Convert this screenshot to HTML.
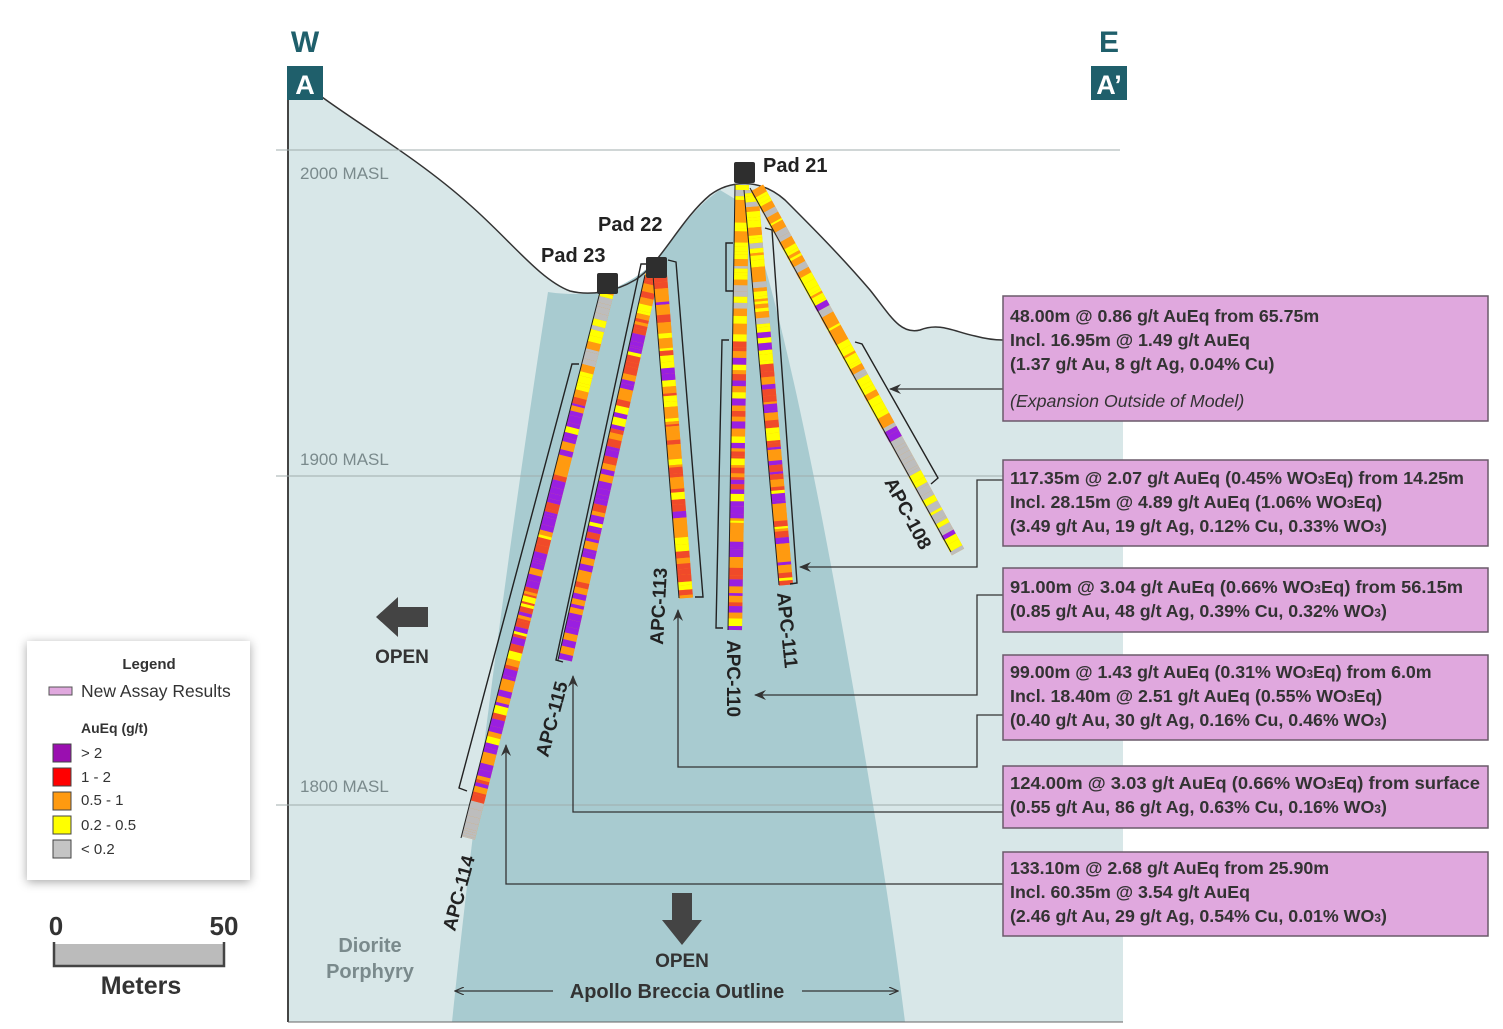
<!DOCTYPE html>
<html><head><meta charset="utf-8"><style>
html,body{margin:0;padding:0;background:#fff;}
svg{display:block;font-family:"Liberation Sans",sans-serif;}
</style></head><body>
<svg id="s" width="1503" height="1029" viewBox="0 0 1503 1029" xmlns="http://www.w3.org/2000/svg">
<defs>
<marker id="ah" markerWidth="12" markerHeight="10" refX="11" refY="5" orient="auto" markerUnits="userSpaceOnUse">
<path d="M0,0 L12,5 L0,10 L4,5 Z" fill="#333"/></marker>
<marker id="sa" markerWidth="10" markerHeight="8" refX="9" refY="4" orient="auto" markerUnits="userSpaceOnUse">
<path d="M0,0 L9,4 L0,8" fill="none" stroke="#333" stroke-width="1.2"/></marker>
<filter id="sh" x="-20%" y="-20%" width="140%" height="140%"><feDropShadow dx="0" dy="2" stdDeviation="5" flood-color="#000" flood-opacity="0.35"/></filter>
</defs>
<path d="M288,97 L322,97 C360,125 420,160 470,205 C510,240 540,280 570,291 C590,296 615,292 635,280 C660,265 680,220 710,195 C730,180 760,178 785,200 C810,225 840,255 870,290 C890,315 900,335 920,330 C940,322 955,332 975,336 C990,340 1000,340 1003,340 L1123,340 L1123,1022 L288,1022 Z" fill="#d8e7e8"/>
<path d="M548,292 C560,294 590,296 610,290 C635,280 655,265 668,245 C690,215 705,200 720,190 L745,205 C770,270 800,400 830,560 C860,720 890,900 905,1022 L452,1022 C470,850 500,600 548,292 Z" fill="#a8cbd0"/>
<path d="M322,97 C360,125 420,160 470,205 C510,240 540,280 570,291 C590,296 615,292 635,280 C660,265 680,220 710,195 C730,180 760,178 785,200 C810,225 840,255 870,290 C890,315 900,335 920,330 C940,322 955,332 975,336 C990,340 1000,340 1003,340" fill="none" stroke="#333" stroke-width="1.5"/>
<line x1="288" y1="100" x2="288" y2="1022" stroke="#444" stroke-width="2"/>
<line x1="288" y1="1022" x2="1123" y2="1022" stroke="#666" stroke-width="1"/>
<g stroke="#a0acad" stroke-width="1">
<line x1="276" y1="150" x2="1120" y2="150"/>
<line x1="276" y1="476" x2="1120" y2="476"/>
<line x1="276" y1="805" x2="1120" y2="805"/>
</g>
<g fill="#7a8a8c" font-size="17">
<text x="300" y="179">2000 MASL</text>
<text x="300" y="465">1900 MASL</text>
<text x="300" y="792">1800 MASL</text>
</g>
<text x="305" y="52" font-size="30" font-weight="bold" fill="#1f5f6b" text-anchor="middle">W</text>
<rect x="287" y="66" width="36" height="34" fill="#1f5f6b"/>
<text x="305" y="94" font-size="27" font-weight="bold" fill="#fff" text-anchor="middle">A</text>
<text x="1109" y="52" font-size="30" font-weight="bold" fill="#1f5f6b" text-anchor="middle">E</text>
<rect x="1091" y="66" width="36" height="34" fill="#1f5f6b"/>
<text x="1109" y="94" font-size="27" font-weight="bold" fill="#fff" text-anchor="middle">A’</text>

<g id="holes"></g>

<g fill="none" stroke="#222" stroke-width="1.4">
<path d="M579,364 L572,364 L459,788 L467,791"/>
<path d="M648,264 L641,264 L556,660 L563,662"/>
<path d="M668,260 L676,262 L703,597 L695,597"/>
<path d="M733,243 L726,243 L726,291 L733,291"/>
<path d="M729,340 L722,340 L716,628 L723,628"/>
<path d="M765,228 L772,230 L797,583 L790,584"/>
<path d="M855,342 L862,344 L938,478 L931,484"/>
</g>
<g fill="#2e2e2e">
<rect x="597" y="273" width="21" height="21" rx="2"/>
<rect x="646" y="257" width="21" height="21" rx="2"/>
<rect x="734" y="162" width="21" height="21" rx="2"/>
</g>
<g font-size="20" font-weight="bold" fill="#222">
<text x="541" y="262">Pad 23</text>
<text x="598" y="231">Pad 22</text>
<text x="763" y="172">Pad 21</text>
</g>
<g font-size="19" font-weight="bold" fill="#222">
<text transform="translate(455,932) rotate(-75)">APC-114</text>
<text transform="translate(548,758) rotate(-75)">APC-115</text>
<text transform="translate(663,645) rotate(-87)">APC-113</text>
<text transform="translate(727,640) rotate(90)">APC-110</text>
<text transform="translate(777,593) rotate(84)">APC-111</text>
<text transform="translate(884,482) rotate(62)">APC-108</text>
</g>
<g fill="none" stroke="#333" stroke-width="1.3" marker-end="url(#ah)">
<path d="M1003,389 L890,389"/>
<path d="M1003,480 L977,480 L977,567 L800,567"/>
<path d="M1003,595 L977,595 L977,695 L755,695"/>
<path d="M1003,715 L977,715 L977,767 L678,767 L678,610"/>
<path d="M1003,812 L573,812 L573,676"/>
<path d="M1003,884 L506,884 L506,745"/>
</g>
<g fill="#e0a8de" stroke="#6a5a6a" stroke-width="1.5">
<rect x="1003" y="296" width="485" height="125"/>
<rect x="1003" y="460" width="485" height="86"/>
<rect x="1003" y="568" width="485" height="64"/>
<rect x="1003" y="655" width="485" height="85"/>
<rect x="1003" y="766" width="485" height="62"/>
<rect x="1003" y="852" width="485" height="84"/>
</g>
<g font-size="17.8" font-weight="bold" fill="#333">
<text x="1010" y="322">48.00m @ 0.86 g/t AuEq from 65.75m</text>
<text x="1010" y="346">Incl. 16.95m @ 1.49 g/t AuEq</text>
<text x="1010" y="370">(1.37 g/t Au, 8 g/t Ag, 0.04% Cu)</text>
<text x="1010" y="407" font-style="italic" font-weight="normal">(Expansion Outside of Model)</text>
<text x="1010" y="484" textLength="454" lengthAdjust="spacingAndGlyphs">117.35m @ 2.07 g/t AuEq (0.45% WO<tspan font-size="12">3</tspan>Eq) from 14.25m</text>
<text x="1010" y="508">Incl. 28.15m @ 4.89 g/t AuEq (1.06% WO<tspan font-size="12">3</tspan>Eq)</text>
<text x="1010" y="532">(3.49 g/t Au, 19 g/t Ag, 0.12% Cu, 0.33% WO<tspan font-size="12">3</tspan>)</text>
<text x="1010" y="593" textLength="453" lengthAdjust="spacingAndGlyphs">91.00m @ 3.04 g/t AuEq (0.66% WO<tspan font-size="12">3</tspan>Eq) from 56.15m</text>
<text x="1010" y="617">(0.85 g/t Au, 48 g/t Ag, 0.39% Cu, 0.32% WO<tspan font-size="12">3</tspan>)</text>
<text x="1010" y="678">99.00m @ 1.43 g/t AuEq (0.31% WO<tspan font-size="12">3</tspan>Eq) from 6.0m</text>
<text x="1010" y="702">Incl. 18.40m @ 2.51 g/t AuEq (0.55% WO<tspan font-size="12">3</tspan>Eq)</text>
<text x="1010" y="726">(0.40 g/t Au, 30 g/t Ag, 0.16% Cu, 0.46% WO<tspan font-size="12">3</tspan>)</text>
<text x="1010" y="789" textLength="470" lengthAdjust="spacingAndGlyphs">124.00m @ 3.03 g/t AuEq (0.66% WO<tspan font-size="12">3</tspan>Eq) from surface</text>
<text x="1010" y="813">(0.55 g/t Au, 86 g/t Ag, 0.63% Cu, 0.16% WO<tspan font-size="12">3</tspan>)</text>
<text x="1010" y="874">133.10m @ 2.68 g/t AuEq from 25.90m</text>
<text x="1010" y="898">Incl. 60.35m @ 3.54 g/t AuEq</text>
<text x="1010" y="922">(2.46 g/t Au, 29 g/t Ag, 0.54% Cu, 0.01% WO<tspan font-size="12">3</tspan>)</text>
</g>
<path d="M376,617 L398,597 L398,607 L428,607 L428,627 L398,627 L398,637 Z" fill="#444"/>
<text x="402" y="663" font-size="19" font-weight="bold" fill="#333" text-anchor="middle">OPEN</text>
<path d="M672,893 L692,893 L692,920 L702,920 L682,945 L662,920 L672,920 Z" fill="#444"/>
<text x="682" y="967" font-size="19" font-weight="bold" fill="#333" text-anchor="middle">OPEN</text>
<text x="677" y="998" font-size="20" font-weight="bold" fill="#333" text-anchor="middle">Apollo Breccia Outline</text>
<g stroke="#333" stroke-width="1.3" fill="none" marker-end="url(#sa)">
<line x1="553" y1="991" x2="455" y2="991"/>
<line x1="802" y1="991" x2="898" y2="991"/>
</g>
<text x="370" y="952" font-size="20" font-weight="bold" fill="#7a8a8c" text-anchor="middle">Diorite</text>
<text x="370" y="978" font-size="20" font-weight="bold" fill="#7a8a8c" text-anchor="middle">Porphyry</text>
<rect x="27" y="641" width="223" height="239" fill="#fff" filter="url(#sh)"/>
<text x="149" y="669" font-size="15" font-weight="bold" fill="#333" text-anchor="middle">Legend</text>
<rect x="49" y="687" width="23" height="8" fill="#e0a8de" stroke="#555" stroke-width="1"/>
<text x="81" y="697" font-size="17.5" fill="#333">New Assay Results</text>
<text x="81" y="733" font-size="14" font-weight="bold" fill="#333">AuEq (g/t)</text>
<g stroke="#444" stroke-width="1">
<rect x="53" y="744" width="18" height="18" fill="#9a0fb0"/>
<rect x="53" y="768" width="18" height="18" fill="#f00"/>
<rect x="53" y="792" width="18" height="18" fill="#ff9a10"/>
<rect x="53" y="816" width="18" height="18" fill="#ffff00"/>
<rect x="53" y="840" width="18" height="18" fill="#c4c4c4"/>
</g>
<g font-size="15" fill="#333">
<text x="81" y="758">&gt; 2</text>
<text x="81" y="782">1 - 2</text>
<text x="81" y="805">0.5 - 1</text>
<text x="81" y="830">0.2 - 0.5</text>
<text x="81" y="854">&lt; 0.2</text>
</g>
<text x="56" y="935" font-size="26" font-weight="bold" fill="#333" text-anchor="middle">0</text>
<text x="224" y="935" font-size="26" font-weight="bold" fill="#333" text-anchor="middle">50</text>
<rect x="54" y="944" width="170" height="21" fill="#bbb"/>
<path d="M54,942 L54,966 L224,966 L224,942" fill="none" stroke="#444" stroke-width="2.5"/>
<text x="141" y="994" font-size="25" font-weight="bold" fill="#333" text-anchor="middle">Meters</text>
</svg>
<script>
(function(){
var seed=7;function r(){seed=(seed*16807)%2147483647;return (seed-1)/2147483646;}
var C={p:"#9a1fe0",r:"#f04a2a",o:"#ff9a10",y:"#ffff00",g:"#bdbdbd"};
function pick(w){var t=0,k;for(k in w)t+=w[k];var x=r()*t;for(k in w){x-=w[k];if(x<=0)return C[k];}return C.o;}
var holes=[
 [607,292,468,838,[[0,.18,{y:5,g:3,o:2}],[.18,.93,{p:5,o:3,r:3,y:1}],[.93,1,{g:1}]]],
 [652,275,565,660,[[0,.15,{o:4,r:3,y:2}],[.15,1,{p:6,o:3,r:2,y:1}]]],
 [660,275,686,598,[[0,1,{o:5,y:4,r:3,p:1}]]],
 [742,185,735,630,[[0,.3,{y:5,o:3,g:2,p:1}],[.3,1,{o:4,r:3,p:3,y:2}]]],
 [751,190,786,585,[[0,.35,{y:5,o:3,g:2}],[.35,1,{o:4,p:3,r:3,y:2}]]],
 [757,188,958,552,[[0,.65,{y:6,o:3,g:2,p:1}],[.65,1,{g:5,y:2,p:1}]]]
];
var g=document.getElementById("holes"),h="";
holes.forEach(function(H){
 var x1=H[0],y1=H[1],x2=H[2],y2=H[3],L=Math.hypot(x2-x1,y2-y1),t=0;
 h+='<line x1="'+x1+'" y1="'+y1+'" x2="'+x2+'" y2="'+y2+'" stroke="#ff9a10" stroke-width="14"/>';
 while(t<1){var d=(2+r()*6)/L,t2=Math.min(1,t+d),w=null;
  H[4].forEach(function(s){if(t>=s[0]&&t<s[1])w=s[2];});if(!w)w=H[4][H[4].length-1][2];
  var c=pick(w);
  h+='<line x1="'+(x1+(x2-x1)*t)+'" y1="'+(y1+(y2-y1)*t)+'" x2="'+(x1+(x2-x1)*t2)+'" y2="'+(y1+(y2-y1)*t2)+'" stroke="'+c+'" stroke-width="14"/>';
  t=t2;}
 h+='<line x1="'+(x1-7)+'" y1="'+y1+'" x2="'+(x2-7)+'" y2="'+y2+'" stroke="#222" stroke-width="1"/>';
});
g.innerHTML=h;
})();
</script>
</body></html>
